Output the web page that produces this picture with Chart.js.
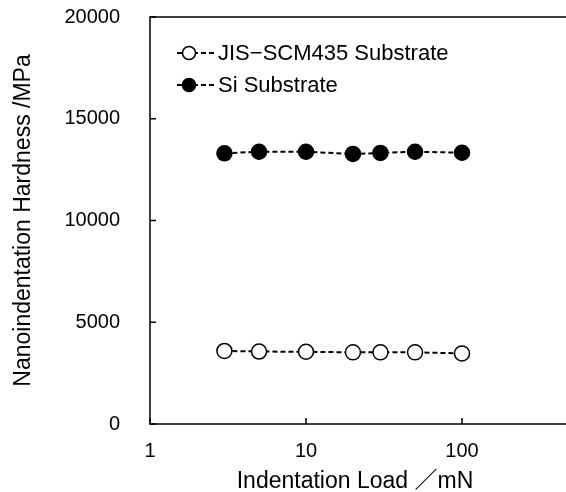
<!DOCTYPE html>
<html>
<head>
<meta charset="utf-8">
<script src="https://cdn.jsdelivr.net/npm/chart.js@4"></script>
<style>
  html, body { margin: 0; padding: 0; overflow: hidden; background: #fff; }
  #wrap { width: 630px; height: 492px; }
</style>
</head>
<body>
<div id="wrap"><canvas id="hardChart" width="630" height="492"></canvas></div>
<script>
const loads = [3, 5, 10, 20, 30, 50, 100];
const jisHardness = [3590, 3560, 3550, 3520, 3520, 3520, 3470];
const siHardness = [13300, 13380, 13380, 13270, 13320, 13380, 13330];
const xTicks = [1, 10, 100, 1000];
const yTicks = [0, 5000, 10000, 15000, 20000];
const seriesNames = ['JIS\u2212SCM435 Substrate', 'Si Substrate'];
const xTitle = 'Indentation Load \uFF0FmN';
const yTitle = 'Nanoindentation Hardness /MPa';

const FONT = 'Liberation Sans, Arial, "Noto Sans CJK JP", sans-serif';

// frame, inward ticks, x title and the legend inside the plot
const framePlugin = {
  id: 'frame',
  afterDraw(chart) {
    const ctx = chart.ctx;
    const a = chart.chartArea;
    const xs = chart.scales.x, ys = chart.scales.y;
    ctx.save();
    ctx.strokeStyle = '#000';
    ctx.lineWidth = 1.5;
    ctx.strokeRect(a.left, a.top, a.right - a.left, a.bottom - a.top);
    ctx.beginPath();
    xTicks.forEach(v => {
      const px = xs.getPixelForValue(v);
      ctx.moveTo(px, a.bottom);
      ctx.lineTo(px, a.bottom - 6);
    });
    yTicks.forEach(v => {
      const py = ys.getPixelForValue(v);
      ctx.moveTo(a.left, py);
      ctx.lineTo(a.left + 6, py);
    });
    ctx.stroke();

    // x axis title, centred where the original figure had it
    ctx.fillStyle = '#000';
    ctx.font = '23px ' + FONT;
    ctx.textAlign = 'center';
    ctx.textBaseline = 'middle';
    ctx.fillText(xTitle, a.left + 205, xs.bottom - 10);

    // legend
    ctx.textAlign = 'left';
    chart.data.datasets.forEach((ds, i) => {
      const y = a.top + 36 + i * 32;
      const x0 = a.left + 27;
      ctx.setLineDash([5, 3]);
      ctx.lineWidth = 2;
      ctx.beginPath();
      ctx.moveTo(x0, y);
      ctx.lineTo(x0 + 38, y);
      ctx.stroke();
      ctx.setLineDash([]);
      ctx.lineWidth = 1.5;
      ctx.beginPath();
      ctx.arc(x0 + 12, y, 6.5, 0, Math.PI * 2);
      ctx.fillStyle = ds.pointBackgroundColor;
      ctx.fill();
      ctx.stroke();
      ctx.fillStyle = '#000';
      ctx.font = '22px ' + FONT;
      ctx.fillText(ds.label, x0 + 41, y + 1);
    });
    ctx.restore();
  }
};

const ctx = document.querySelector('#hardChart').getContext('2d');
const hardChart = new Chart(ctx, {
  type: 'line',
  data: {
    datasets: [{
      label: seriesNames[0],
      data: loads.map((l, i) => ({ x: l, y: jisHardness[i] })),
      borderColor: '#000',
      borderWidth: 2,
      borderDash: [5, 3],
      pointRadius: 7.5,
      pointBorderWidth: 1.5,
      pointBorderColor: '#000',
      pointBackgroundColor: '#fff'
    }, {
      label: seriesNames[1],
      data: loads.map((l, i) => ({ x: l, y: siHardness[i] })),
      borderColor: '#000',
      borderWidth: 2,
      borderDash: [5, 3],
      pointRadius: 7.5,
      pointBorderWidth: 1.5,
      pointBorderColor: '#000',
      pointBackgroundColor: '#000'
    }]
  },
  options: {
    responsive: false,
    animation: false,
    layout: { padding: { top: 17, right: 12, left: 0, bottom: 0 } },
    plugins: {
      legend: { display: false },
      tooltip: { enabled: false }
    },
    scales: {
      x: {
        type: 'logarithmic',
        min: 1,
        max: 1000,
        afterBuildTicks: s => { s.ticks = xTicks.map(v => ({ value: v })); },
        afterFit: s => { s.height = 68; s.paddingLeft = 0; s.paddingRight = 0; },
        grid: { display: false, drawTicks: false },
        border: { display: false },
        ticks: {
          color: '#000',
          font: { size: 20, family: FONT },
          padding: 15,
          maxRotation: 0,
          autoSkip: false,
          callback: v => String(v)
        },
        title: { display: false }
      },
      y: {
        min: 0,
        max: 20000,
        afterBuildTicks: s => { s.ticks = yTicks.map(v => ({ value: v })); },
        afterFit: s => { s.width = 150; s.paddingTop = 0; s.paddingBottom = 0; },
        grid: { display: false, drawTicks: false },
        border: { display: false },
        ticks: {
          color: '#000',
          font: { size: 20, family: FONT },
          padding: 30,
          callback: v => String(v)
        },
        title: {
          display: true,
          text: yTitle,
          color: '#000',
          font: { size: 23, family: FONT },
          padding: 10
        }
      }
    }
  },
  plugins: [framePlugin]
});
</script>
</body>
</html>
